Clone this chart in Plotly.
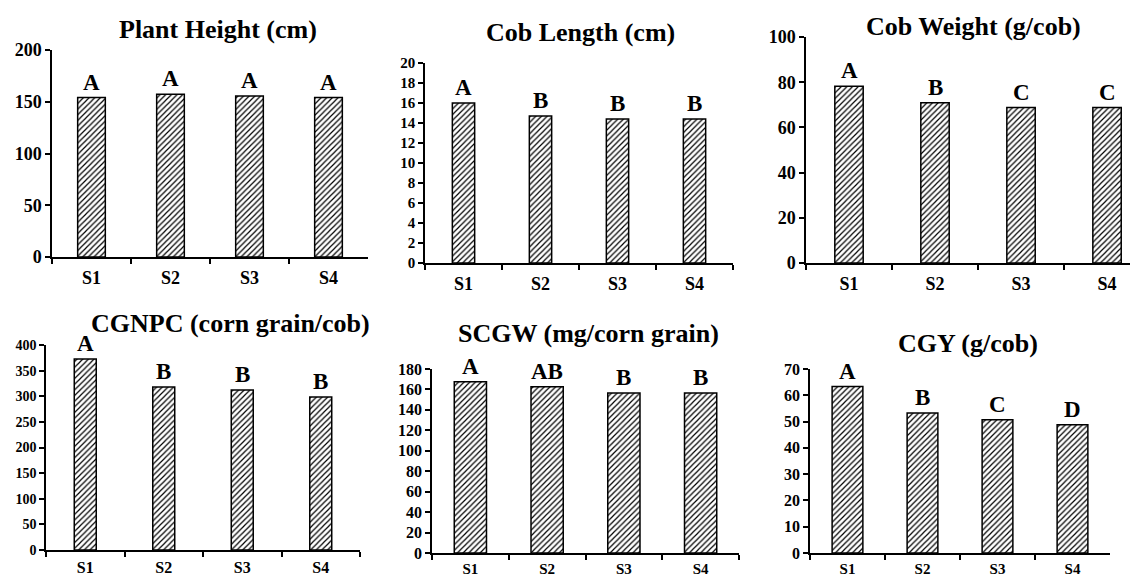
import plotly.graph_objects as go

W, H = 1130, 579

categories = ["S1", "S2", "S3", "S4"]

titles = ["Plant Height (cm)", "Cob Length (cm)", "Cob Weight (g/cob)",
          "CGNPC (corn grain/cob)", "SCGW (mg/corn grain)", "CGY (g/cob)"]

plant_height = [154, 157.2, 155.6, 154]
cob_length = [16.0, 14.7, 14.4, 14.4]
cob_weight = [78.2, 70.9, 68.8, 68.8]
cgnpc = [372.5, 318, 312, 298.5]
scgw = [167.6, 162.7, 156.5, 156.5]
cgy = [63.3, 53.3, 50.7, 48.8]

letters_ph = ["A", "A", "A", "A"]
letters_cl = ["A", "B", "B", "B"]
letters_cw = ["A", "B", "C", "C"]
letters_cgnpc = ["A", "B", "B", "B"]
letters_scgw = ["A", "AB", "B", "B"]
letters_cgy = ["A", "B", "C", "D"]

y_max = [200, 20, 100, 400, 180, 70]
y_dtick = [50, 2, 20, 50, 20, 10]

series = [plant_height, cob_length, cob_weight, cgnpc, scgw, cgy]
letters = [letters_ph, letters_cl, letters_cw, letters_cgnpc, letters_scgw, letters_cgy]

panels = [
    dict(x0=52, x1=368, yt=50, yb=257, xend=3.5, bw=0.35, tf=18, xf=18, so=4, tx=218, ty=30),
    dict(x0=425, x1=733, yt=63, yb=263, xend=3.5, bw=0.29, tf=15, xf=18, so=4, tx=580, ty=32),
    dict(x0=806, x1=1130, yt=37, yb=263, xend=3.267, bw=0.33, tf=18, xf=18, so=4, tx=973, ty=27),
    dict(x0=46, x1=360, yt=345, yb=550, xend=3.5, bw=0.28, tf=14, xf=16, so=2, tx=230, ty=323),
    dict(x0=432, x1=739, yt=369, yb=553, xend=3.5, bw=0.42, tf=16, xf=15, so=1, tx=588, ty=333),
    dict(x0=810, x1=1110, yt=369, yb=553, xend=3.5, bw=0.41, tf=16, xf=15, so=1, tx=968, ty=343),
]

FONT = "Times New Roman, Liberation Serif, Tinos, serif"
fig = go.Figure()
annotations = []

for i, (vals, lets, p) in enumerate(zip(series, letters, panels)):
    n = i + 1
    xa = "x" if n == 1 else f"x{n}"
    ya = "y" if n == 1 else f"y{n}"
    fig.add_trace(go.Bar(
        x=categories, y=vals, width=p["bw"],
        xaxis=xa, yaxis=ya,
        marker=dict(color="white",
                    line=dict(color="black", width=1.5),
                    pattern=dict(shape="/", fgcolor="black", bgcolor="white",
                                 size=4, solidity=0.3)),
        showlegend=False, hoverinfo="skip",
    ))
    for c, v, t in zip(categories, vals, lets):
        annotations.append(dict(
            x=c, y=v, xref=xa, yref=ya, text=f"<b>{t}</b>", showarrow=False,
            yanchor="bottom", yshift=1,
            font=dict(family=FONT, size=23, color="black")))
    annotations.append(dict(
        x=p["tx"] / W, y=1 - p["ty"] / H, xref="paper", yref="paper",
        text=f"<b>{titles[i]}</b>", showarrow=False,
        xanchor="center", yanchor="middle",
        font=dict(family=FONT, size=26, color="black")))

    axis_common = dict(showline=True, linecolor="black", linewidth=1.5,
                       showgrid=False, zeroline=False, ticks="outside",
                       tickcolor="black", ticklen=5, tickwidth=1.5,
                       automargin=False, tickprefix="<b>", ticksuffix="</b>")
    xkey = "xaxis" if n == 1 else f"xaxis{n}"
    ykey = "yaxis" if n == 1 else f"yaxis{n}"
    fig.update_layout(**{
        xkey: dict(domain=[p["x0"] / W, min(p["x1"] / W, 1.0)], anchor=ya,
                   type="category", range=[-0.5, p["xend"]],
                   tickson="boundaries", ticklabelstandoff=p["so"],
                   tickfont=dict(family=FONT, size=p["xf"], color="black"),
                   **axis_common),
        ykey: dict(domain=[1 - p["yb"] / H, 1 - p["yt"] / H], anchor=xa,
                   range=[0, y_max[i]], dtick=y_dtick[i], tick0=0,
                   tickfont=dict(family=FONT, size=p["tf"], color="black"),
                   **axis_common),
    })

fig.update_layout(
    template="none",
    width=W, height=H,
    margin=dict(l=0, r=0, t=0, b=0, autoexpand=False),
    paper_bgcolor="white", plot_bgcolor="white",
    font=dict(family=FONT, color="black"),
    annotations=annotations,
    bargap=0.6,
)

fig.write_html("out.html", config={"displayModeBar": False},
               post_script="document.body.style.margin='0';document.body.style.overflow='hidden';")
